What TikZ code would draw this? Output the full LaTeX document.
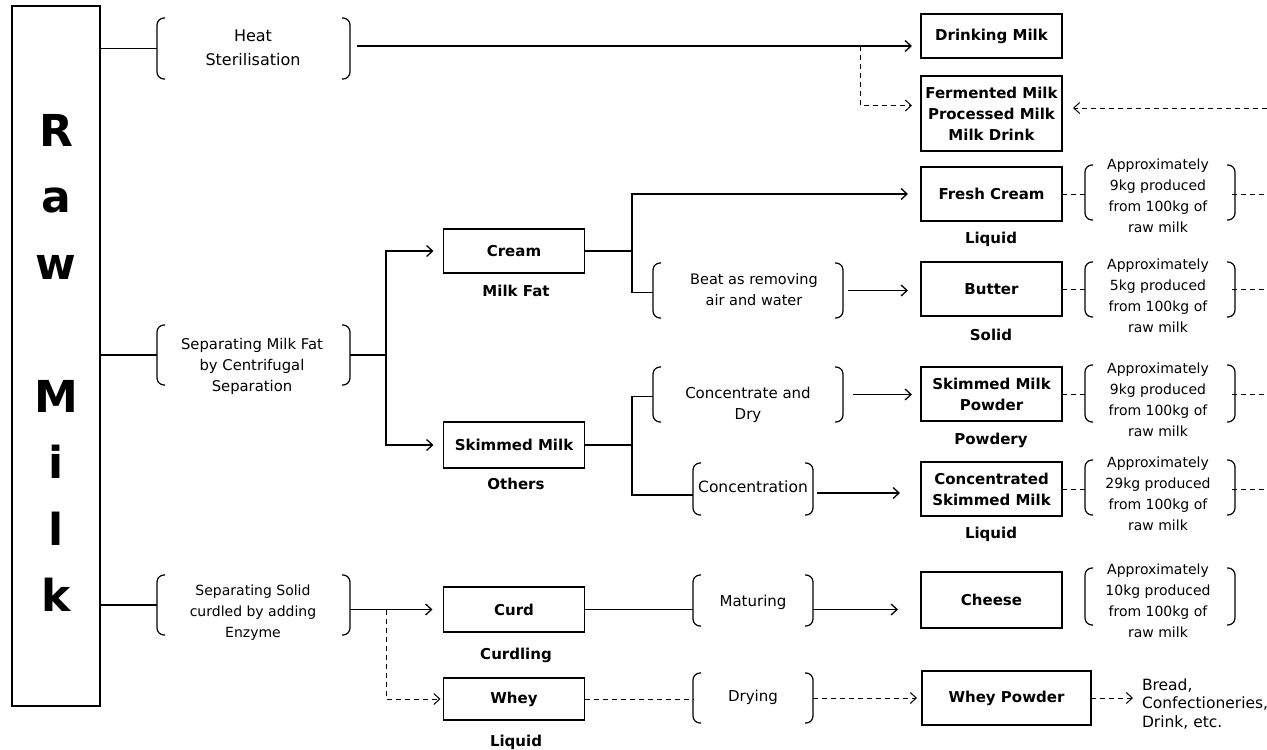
\documentclass[tikz,border=0pt]{standalone}
\usepackage{fontspec}
\setmainfont{DejaVu Sans}
\usetikzlibrary{arrows.meta,calc}
\tikzset{
  every node/.style={inner sep=0pt, outer sep=0pt},
  box/.style={draw, line width=1.4pt, align=center, font=\bfseries\fontsize{15}{21}\selectfont, minimum width=141pt},
  lbl/.style={font=\bfseries\fontsize{15}{18}\selectfont},
  txt/.style={align=center, font=\fontsize{14}{21}\selectfont},
  ptxt/.style={align=center, font=\fontsize{15}{21}\selectfont},
  conn/.style={line width=1.3pt},
  arr/.style={conn, -{Straight Barb[length=6pt,width=11pt]}},
  dsh/.style={line width=1pt, dash pattern=on 5pt off 4pt},
  darr/.style={dsh, -{Straight Barb[length=6pt,width=11pt]}},
}
\newcommand\drawbrk[1]{%
  \draw[line width=1.2pt, rounded corners=7pt] ([xshift=8pt]#1.north west) -- (#1.north west) -- (#1.south west) -- ([xshift=8pt]#1.south west);
  \draw[line width=1.2pt, rounded corners=7pt] ([xshift=-8pt]#1.north east) -- (#1.north east) -- (#1.south east) -- ([xshift=-8pt]#1.south east);}
\begin{document}
\begin{tikzpicture}[x=1pt,y=-1pt]
\fill[white] (0,0) rectangle (1267,750);
\useasboundingbox (0,0) rectangle (1267,750);
\coordinate (redge) at (1267,0);

% Raw milk
\node[draw, line width=1.4pt, minimum width=88pt, minimum height=700pt] (raw) at (56,356) {};
\node[anchor=north, align=center, font=\bfseries\fontsize{44}{66.5}\selectfont] (rawt) at (56,114) {R\\a\\w\\[66.5pt]M\\i\\l\\k};

% bracket frames (left)
\node[minimum width=193pt, minimum height=61pt] (heatb) at (253.5,48.5) {};
\node[txt, font=\fontsize{16}{24}\selectfont] (heatt) at (253,48) {Heat\\Sterilisation};
\node[minimum width=193pt, minimum height=60pt] (sepb) at (253.5,355) {};
\node[txt, font=\fontsize{14.8}{21}\selectfont] (sept) at (252,366) {Separating Milk Fat\\by Centrifugal\\Separation};
\node[minimum width=193pt, minimum height=60pt] (solb) at (253.5,605) {};
\node[txt] (solt) at (253,613) {Separating Solid\\curdled by adding\\Enzyme};

% middle boxes
\node[box, minimum height=44pt] (cream) at (514,251) {Cream};
\node[lbl] (creaml) at (516,291) {Milk Fat};
\node[box, minimum height=46pt] (skim) at (514,445) {Skimmed Milk};
\node[lbl] (skiml) at (516,484) {Others};
\node[box, minimum height=45pt] (curd) at (514,609.5) {Curd};
\node[lbl] (curdl) at (516,655) {Curdling};
\node[box, minimum height=42pt] (whey) at (514,699) {Whey};
\node[lbl] (wheyl) at (516,742) {Liquid};

% process brackets
\node[minimum width=190pt, minimum height=55pt] (beatb) at (748,290.5) {};
\node[ptxt, font=\fontsize{14.5}{21}\selectfont] (beatt) at (754,290) {Beat as removing\\air and water};
\node[minimum width=190pt, minimum height=55pt] (concdb) at (748,394.5) {};
\node[ptxt] (concdt) at (748,405) {Concentrate and\\Dry};
\node[minimum width=120pt, minimum height=52pt] (concb) at (753,489) {};
\node[ptxt, font=\fontsize{15.5}{21}\selectfont] (conct) at (753,487) {Concentration};
\node[minimum width=120pt, minimum height=51pt] (matb) at (753,600.5) {};
\node[ptxt] (matt) at (753,602) {Maturing};
\node[minimum width=120pt, minimum height=50pt] (dryb) at (753,698) {};
\node[ptxt] (dryt) at (753,697) {Drying};

% product boxes
\node[box, minimum height=44pt] (drink) at (991.5,36) {Drinking Milk};
\node[box, minimum height=75pt] (ferm) at (991.5,113.5) {Fermented Milk\\Processed Milk\\Milk Drink};
\node[box, minimum height=54pt] (fresh) at (991.5,194) {Fresh Cream};
\node[lbl] (freshl) at (991,239) {Liquid};
\node[box, minimum height=54pt] (butter) at (991.5,289) {Butter};
\node[lbl] (butterl) at (991,335) {Solid};
\node[box, minimum height=54pt] (smp) at (991.5,394) {Skimmed Milk\\Powder};
\node[lbl] (smpl) at (991,440) {Powdery};
\node[box, minimum height=54pt] (csm) at (991.5,489) {Concentrated\\Skimmed Milk};
\node[lbl] (csml) at (991,534) {Liquid};
\node[box, minimum height=56pt] (cheese) at (991.5,600) {Cheese};
\node[box, minimum height=54pt, minimum width=169pt] (wpow) at (1006.5,698) {Whey Powder};
\node[anchor=west, align=left, font=\fontsize{15.5}{18.5}\selectfont] (bread) at (1142,704) {Bread,\\Confectioneries,\\Drink, etc.};

% notes
\node[minimum width=150pt, minimum height=55pt] (n1) at (1160,192.5) {};
\node[txt] (n1t) at (1158,196) {Approximately\\9kg produced\\from 100kg of\\raw milk};
\node[minimum width=150pt, minimum height=55pt] (n2) at (1160,289.5) {};
\node[txt] (n2t) at (1158,296) {Approximately\\5kg produced\\from 100kg of\\raw milk};
\node[minimum width=150pt, minimum height=57pt] (n3) at (1160,393.5) {};
\node[txt] (n3t) at (1158,400) {Approximately\\9kg produced\\from 100kg of\\raw milk};
\node[minimum width=150pt, minimum height=55pt] (n4) at (1160,487.5) {};
\node[txt] (n4t) at (1158,494) {Approximately\\29kg produced\\from 100kg of\\raw milk};
\node[minimum width=150pt, minimum height=57pt] (n5) at (1160,596.5) {};
\node[txt] (n5t) at (1158,601) {Approximately\\10kg produced\\from 100kg of\\raw milk};

\foreach \b in {heatb,sepb,solb,beatb,concdb,concb,matb,dryb,n1,n2,n3,n4,n5} {\drawbrk{\b}}

% connectors from raw milk
\draw[conn] (raw.east |- heatb.west) -- (heatb.west);
\draw[conn] (raw.east |- sepb.west) -- (sepb.west);
\draw[conn] (raw.east |- solb.west) -- (solb.west);

% heat sterilisation
\coordinate (hs) at ([xshift=7pt,yshift=2.5pt]heatb.east);
\draw[arr, shorten >=9pt] (hs) -- (hs -| drink.west);
\coordinate (hb) at (860,46);
\draw[darr, shorten >=9pt] (hb) |- ([yshift=8pt]ferm.west);

% centrifugal separation
\coordinate (sj) at (386,355);
\draw[conn] (sepb.east) -- (sj);
\draw[arr, shorten >=10pt] (sj) |- (cream.west);
\draw[arr, shorten >=10pt] (sj) |- (skim.west);

% cream
\coordinate (cj) at (632,251);
\draw[conn] (cream.east) -- (cj);
\draw[arr, shorten >=13pt] (cj) |- (fresh.west);
\draw[conn] (cj) |- ([yshift=-2pt]beatb.west);
\coordinate (be) at ([xshift=5pt]beatb.east);
\draw[arr, shorten >=13pt] (be) -- (be -| butter.west);

% skimmed milk
\coordinate (kj) at (632,445);
\draw[conn] (skim.east) -- (kj);
\draw[conn] (kj) |- ([yshift=-2pt]concdb.west);
\draw[conn] (kj) |- ([yshift=-6pt]concb.west);
\coordinate (ce) at ([xshift=10pt]concdb.east);
\draw[arr, shorten >=9pt] (ce) -- (ce -| smp.west);
\coordinate (cce) at ([xshift=4pt,yshift=-4pt]concb.east);
\draw[arr, shorten >=21pt] (cce) -- (cce -| csm.west);

% curd / whey
\draw[arr, shorten >=11pt] (solb.east |- curd.west) -- (curd.west);
\coordinate (wj) at (386,609.5);
\draw[darr, shorten >=3pt] (wj) |- (whey.west);
\draw[conn] (curd.east) -- (curd.east -| matb.west);
\draw[arr, shorten >=23pt] (matb.east |- curd.east) -- (curd.east -| cheese.west);
\draw[dsh] (whey.east) -- (whey.east -| dryb.west);
\draw[darr, shorten >=5pt] (dryb.east) -- (dryb.east -| wpow.west);
\draw[darr, shorten >=9pt] (wpow.east) -- (wpow.east -| bread.west);

% notes dashed links
\foreach \p/\n in {fresh/n1,butter/n2,smp/n3,csm/n4} {
  \draw[dsh] (\p.east) -- ([xshift=3pt]\p.east -| \n.west);
  \draw[dsh] ([xshift=-3pt]\n.east |- \p.east) -- (\p.east -| redge);
}
\coordinate (fin) at (1267,108);
\draw[darr, shorten >=11pt] (fin) -- (fin -| ferm.east);
\end{tikzpicture}
\end{document}
